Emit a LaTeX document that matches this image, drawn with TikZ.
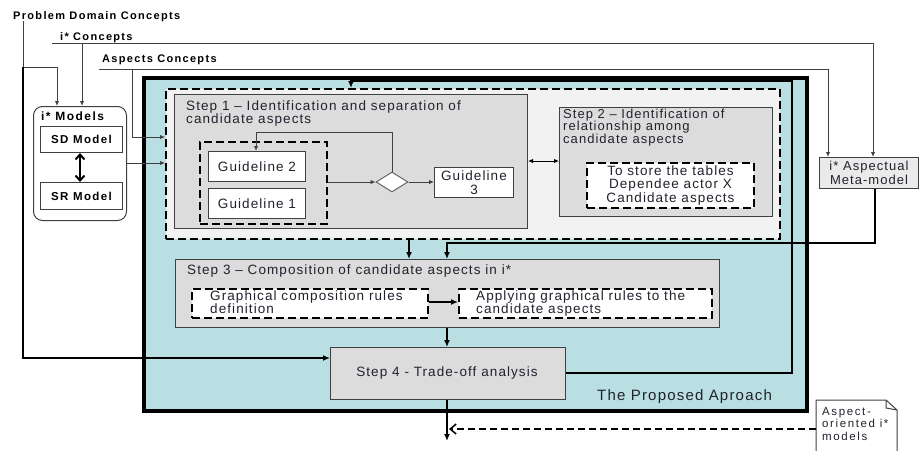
\documentclass[tikz,border=0pt]{standalone}
\usepackage{fontspec}
\setmainfont{Liberation Sans}[LetterSpace=8]
\usetikzlibrary{arrows.meta,shapes.geometric}
\definecolor{apteal}{HTML}{BADFE3}
\definecolor{aplight}{HTML}{F2F2F2}
\definecolor{apgray}{HTML}{DCDCDC}
\definecolor{apmeta}{HTML}{EAEAEA}
\definecolor{aptext}{HTML}{22222E}
\definecolor{apline}{HTML}{404040}
\newcommand\myfs[2]{\fontsize{#1}{#2}\selectfont\lineskiplimit=-30pt\lineskip=0pt}
\tikzset{
  rbox/.style={draw=apline, line width=1pt, inner sep=0pt, anchor=north west},
  dbox/.style={draw=black, line width=2.4pt, dash pattern=on 8pt off 4pt, inner sep=0pt, anchor=north west},
  txt/.style={inner sep=0pt, text=aptext, font=\myfs{13.5}{13}},
  btxt/.style={inner sep=0pt, text=black, font=\myfs{11}{13}\bfseries\addfontfeature{LetterSpace=12}},
  conn/.style={draw=apline, line width=1pt, -{Latex[length=5pt,width=4.5pt]}},
  tconn/.style={draw=black, line width=2pt, -{Latex[length=7pt,width=6pt]}},
}
\begin{document}
\begin{tikzpicture}[x=1pt,y=-1pt]
\useasboundingbox (0,0) rectangle (920,450);
% top labels
\node[btxt, anchor=base west] (pdc) at (13,19) {Problem Domain Concepts};
\node[btxt, anchor=base west] (ic) at (60,40) {i* Concepts};
\node[btxt, anchor=base west] (ac) at (102,62) {Aspects Concepts};
\coordinate (icL) at (52,43);
\coordinate (acL) at (99,69);
% outer approach box
\node[draw=black, line width=3.5pt, fill=apteal, inner sep=0pt, anchor=north west,
      minimum width=663pt, minimum height=333pt] (outer) at (142,76) {};
\node[txt, anchor=base west, font=\myfs{15}{16}] (prop) at (597,400) {The Proposed Aproach};
% dashed container for steps 1 and 2
\node[dbox, fill=aplight, minimum width=614pt, minimum height=150pt] (cont) at (165,88) {};
% step 1
\node[rbox, fill=apgray, minimum width=353pt, minimum height=134pt] (s1) at (174,94) {};
\node[txt, anchor=base west, align=left] (s1t) at (186,123) {Step 1 -- Identification and separation of\\candidate aspects};
\node[dbox, line width=2pt, minimum width=127pt, minimum height=82pt] (gd) at (199,141) {};
\node[rbox, fill=white, minimum width=97pt, minimum height=30pt] (g2) at (208,151) {};
\node[txt] (g2t) at (g2.center) {Guideline 2};
\node[rbox, fill=white, minimum width=97pt, minimum height=30pt] (g1) at (208,188) {};
\node[txt] (g1t) at (g1.center) {Guideline 1};
\node[diamond, draw=apline!80, fill=white, line width=1pt, inner sep=0pt,
      minimum width=32pt, minimum height=20pt] (dia) at (392,182) {};
\node[rbox, fill=white, minimum width=79pt, minimum height=30pt] (g3) at (434,167) {};
\node[txt, align=center, font=\myfs{13.5}{14}] (g3t) at (g3.center) {Guideline\\3};
% step 2
\node[rbox, fill=apgray, minimum width=213pt, minimum height=109pt] (s2) at (559,107) {};
\node[txt, anchor=base west, align=left, font=\myfs{13}{12.5}] (s2t) at (563,143) {Step 2 -- Identification of\\relationship among\\candidate aspects};
\node[dbox, line width=2pt, fill=white, minimum width=167pt, minimum height=45pt] (tab) at (586,162) {};
\node[txt, align=center, font=\myfs{13.5}{13.5}] (tabt) at (tab.center) {To store the tables\\Dependee actor X\\Candidate aspects};
% i* models
\node[draw=apline, line width=1pt, rounded corners=9pt, fill=white, inner sep=0pt, anchor=north west,
      minimum width=93pt, minimum height=114pt] (im) at (33,106) {};
\node[btxt, anchor=base west, font=\myfs{12}{13}\bfseries\addfontfeature{LetterSpace=12}] (imt) at (41,120) {i* Models};
\node[rbox, fill=white, minimum width=82pt, minimum height=26pt] (sd) at (40,126) {};
\node[btxt, font=\myfs{11.5}{13}\bfseries\addfontfeature{LetterSpace=12}] (sdt) at (sd.center) {SD Model};
\node[rbox, fill=white, minimum width=82pt, minimum height=27pt] (sr) at (40,182) {};
\node[btxt, font=\myfs{11.5}{13}\bfseries\addfontfeature{LetterSpace=12}] (srt) at (sr.center) {SR Model};
% meta-model
\node[rbox, fill=apmeta, minimum width=99pt, minimum height=31pt] (meta) at (819,157) {};
\node[txt, align=center, font=\myfs{13}{14}] (metat) at (meta.center) {i* Aspectual\\Meta-model};
% step 3
\node[rbox, fill=apgray, minimum width=544pt, minimum height=68pt] (s3) at (175,259) {};
\node[txt, anchor=base west] (s3t) at (187,274) {Step 3 -- Composition of candidate aspects in i*};
\node[dbox, line width=2pt, fill=white, minimum width=236pt, minimum height=29pt] (gr) at (191,288) {};
\node[txt, anchor=base west, align=left, font=\myfs{13.5}{12.5}] (grt) at (210,313) {Graphical composition rules\\definition};
\node[dbox, line width=2pt, fill=white, minimum width=253pt, minimum height=29pt] (ap) at (458,288) {};
\node[txt, anchor=base west, align=left, font=\myfs{13.5}{12.5}] (apt) at (476,313) {Applying graphical rules to the\\candidate aspects};
% step 4
\node[rbox, fill=apgray, minimum width=235pt, minimum height=52pt] (s4) at (330,347) {};
\node[txt] (s4t) at (447,373) {Step 4 - Trade-off analysis};
% note
\draw[draw=apline, line width=1pt, fill=white] (816,455) -- (816,400) -- (886,400) -- (897,410) -- (897,455);
\draw[draw=apline, line width=1pt] (886,400) -- (886,408) -- (897,410);
\node[txt, anchor=base west, align=left, font=\myfs{11.5}{12.5}\addfontfeature{LetterSpace=14}] (note) at (822,440) {Aspect-\\oriented i*\\models};
\coordinate (noteL) at (816,429);
\coordinate (out) at (447,441);
% connectors: top concepts
\draw[draw=apline, line width=1pt] (icL) -- (873,43);
\draw[draw=apline, line width=1pt] (acL) -- (828,69);
\draw[conn] (873,43) -- (meta.north -| 873,0);
\draw[conn] (828,69) -- (meta.north -| 828,0);
\draw[conn] (82,43) -- (im.north -| 82,0);
\draw[conn] (pdc.south -| 23,0) -- (23,67) -| (im.north -| 57,0);
\draw[conn] (132,69) -- (132,137) -- (cont.west |- 0,137);
\draw[conn] (im.east |- 0,163) -- (cont.west |- 0,163);
\draw[draw=black, line width=2pt, {Straight Barb[length=5pt,width=9pt]}-{Straight Barb[length=5pt,width=9pt]}] (sd.south -| 80,0) -- (sr.north -| 80,0);
% inside step 1
\draw[conn] (gd.east |- dia.west) -- (dia.west);
\draw[conn] (dia.east) -- (g3.west |- dia.east);
\draw[conn] (dia.north) -- (392,132) -| (g2.north -| 256,0);
\draw[draw=black, line width=1pt, {Latex[length=5pt,width=4.5pt]}-{Latex[length=5pt,width=4.5pt]}] (s1.east |- 0,161) -- (s2.west |- 0,161);
% feedback from step 4
\draw[tconn] (s4.east |- 0,373) -- (792,373) -- (792,81) -- (351,81) -- (cont.north -| 351,0);
% to step 3
\draw[tconn] (cont.south -| 409,0) -- (s3.north -| 409,0);
\draw[tconn] (meta.south -| 875,0) -- (875,243) -- (447,243) -- (s3.north -| 447,0);
\draw[tconn] (gr.east |- 0,302) -- (ap.west |- 0,302);
\draw[tconn] (s3.south -| 447,0) -- (s4.north -| 447,0);
\draw[tconn] (23,67) -- (23,358) -- (s4.west |- 0,358);
\draw[tconn] (s4.south -| 447,0) -- (out);
\draw[draw=black, line width=1.5pt, dash pattern=on 7pt off 4pt, -{Straight Barb[length=6pt,width=10pt]}] (noteL) -- (449,429);
\end{tikzpicture}
\end{document}
